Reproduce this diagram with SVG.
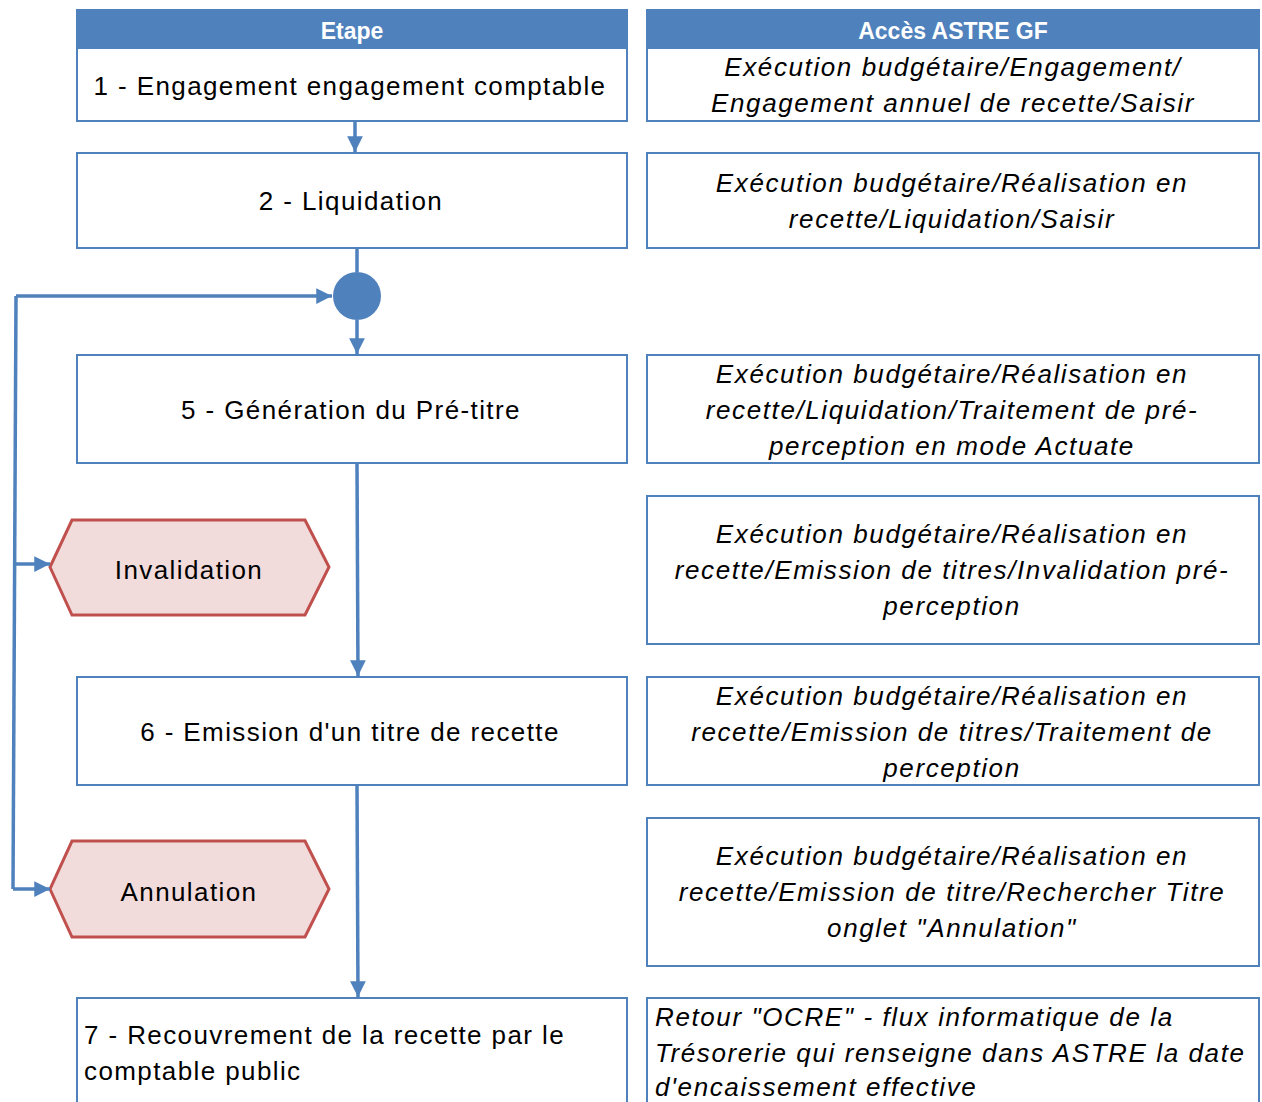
<svg xmlns="http://www.w3.org/2000/svg" width="1262" height="1102" viewBox="0 0 1262 1102">
<defs>
<style>
.hdr{fill:#4F81BD;stroke:#4F81BD;stroke-width:2}
.box{fill:#fff;stroke:#4F81BD;stroke-width:2}
.hex{fill:#F2DCDB;stroke:#C0504D;stroke-width:3}
.ht{font-family:"Liberation Sans",Arial,sans-serif;font-weight:bold;font-size:23px;fill:#fff;text-anchor:middle}
.t{font-family:"Liberation Sans",Arial,sans-serif;font-size:26px;fill:#000;letter-spacing:1.4px}
.c{text-anchor:middle}
.i{font-style:italic;letter-spacing:1.6px}
.con{fill:none;stroke:#4F81BD;stroke-width:3.5}
</style>
<marker id="ah" viewBox="0 0 10 10" refX="10" refY="5" markerWidth="4.5" markerHeight="4.5" markerUnits="strokeWidth" orient="auto">
<path d="M0,0 L10,5 L0,10 z" fill="#4F81BD"/>
</marker>
</defs>
<rect width="1262" height="1102" fill="#fff"/>
<g id="header-etape"><rect class="hdr" x="77" y="10" width="550" height="38"/><text class="ht" x="352" y="39">Etape</text></g>
<g id="header-acces"><rect class="hdr" x="647" y="10" width="612" height="38"/><text class="ht" x="953" y="39">Accès ASTRE GF</text></g>

<g id="step1"><rect class="box" x="77" y="48" width="550" height="73"/><text class="t c" x="350" y="95">1 - Engagement engagement comptable</text></g>
<g id="acces1"><rect class="box" x="647" y="48" width="612" height="73"/><text class="t c i" x="953" y="76">Exécution budgétaire/Engagement/</text><text class="t c i" x="953" y="112">Engagement annuel de recette/Saisir</text></g>

<g id="step2"><rect class="box" x="77" y="153" width="550" height="95"/><text class="t c" x="351" y="210">2 - Liquidation</text></g>
<g id="acces2"><rect class="box" x="647" y="153" width="612" height="95"/><text class="t c i" x="952" y="192">Exécution budgétaire/Réalisation en</text><text class="t c i" x="952" y="228">recette/Liquidation/Saisir</text></g>

<g id="junction"><circle cx="357" cy="296" r="24" fill="#4F81BD"/></g>

<g id="step5"><rect class="box" x="77" y="355" width="550" height="108"/><text class="t c" x="351" y="419">5 - Génération du Pré-titre</text></g>
<g id="acces5"><rect class="box" x="647" y="355" width="612" height="108"/><text class="t c i" x="952" y="383">Exécution budgétaire/Réalisation en</text><text class="t c i" x="952" y="419">recette/Liquidation/Traitement de pré-</text><text class="t c i" x="952" y="455">perception en mode Actuate</text></g>

<g id="invalidation"><polygon class="hex" points="50,567 72,520 305,520 329,567 305,615 72,615"/><text class="t c" x="189" y="579">Invalidation</text></g>
<g id="acces-invalidation"><rect class="box" x="647" y="496" width="612" height="148"/><text class="t c i" x="952" y="543">Exécution budgétaire/Réalisation en</text><text class="t c i" x="952" y="579">recette/Emission de titres/Invalidation pré-</text><text class="t c i" x="952" y="615">perception</text></g>

<g id="step6"><rect class="box" x="77" y="677" width="550" height="108"/><text class="t c" x="350" y="741">6 - Emission d'un titre de recette</text></g>
<g id="acces6"><rect class="box" x="647" y="677" width="612" height="108"/><text class="t c i" x="952" y="705">Exécution budgétaire/Réalisation en</text><text class="t c i" x="952" y="741">recette/Emission de titres/Traitement de</text><text class="t c i" x="952" y="777">perception</text></g>

<g id="annulation"><polygon class="hex" points="50,889 72,841 305,841 329,889 305,937 72,937"/><text class="t c" x="189" y="901">Annulation</text></g>
<g id="acces-annulation"><rect class="box" x="647" y="818" width="612" height="148"/><text class="t c i" x="952" y="865">Exécution budgétaire/Réalisation en</text><text class="t c i" x="952" y="901">recette/Emission de titre/Rechercher Titre</text><text class="t c i" x="952" y="937">onglet "Annulation"</text></g>

<g id="step7"><rect class="box" x="77" y="998" width="550" height="120"/><text class="t" x="84" y="1044">7 - Recouvrement de la recette par le</text><text class="t" x="84" y="1080">comptable public</text></g>
<g id="acces7"><rect class="box" x="647" y="998" width="612" height="120"/><text class="t i" x="655" y="1026">Retour "OCRE" - flux informatique de la</text><text class="t i" x="655" y="1062">Trésorerie qui renseigne dans ASTRE la date</text><text class="t i" x="655" y="1096">d'encaissement effective</text></g>

<g id="connectors">
<path class="con" d="M355,122 V152" marker-end="url(#ah)"/>
<path class="con" d="M357,249 V272"/>
<path class="con" d="M357,320 V354" marker-end="url(#ah)"/>
<path class="con" d="M357,464 L358,676" marker-end="url(#ah)"/>
<path class="con" d="M357,786 L358,997" marker-end="url(#ah)"/>
<path class="con" d="M16,296 H332" marker-end="url(#ah)"/>
<path class="con" d="M16,296 L13,889"/>
<path class="con" d="M14,564 H50" marker-end="url(#ah)"/>
<path class="con" d="M13,889 H50" marker-end="url(#ah)"/>
</g>
</svg>
